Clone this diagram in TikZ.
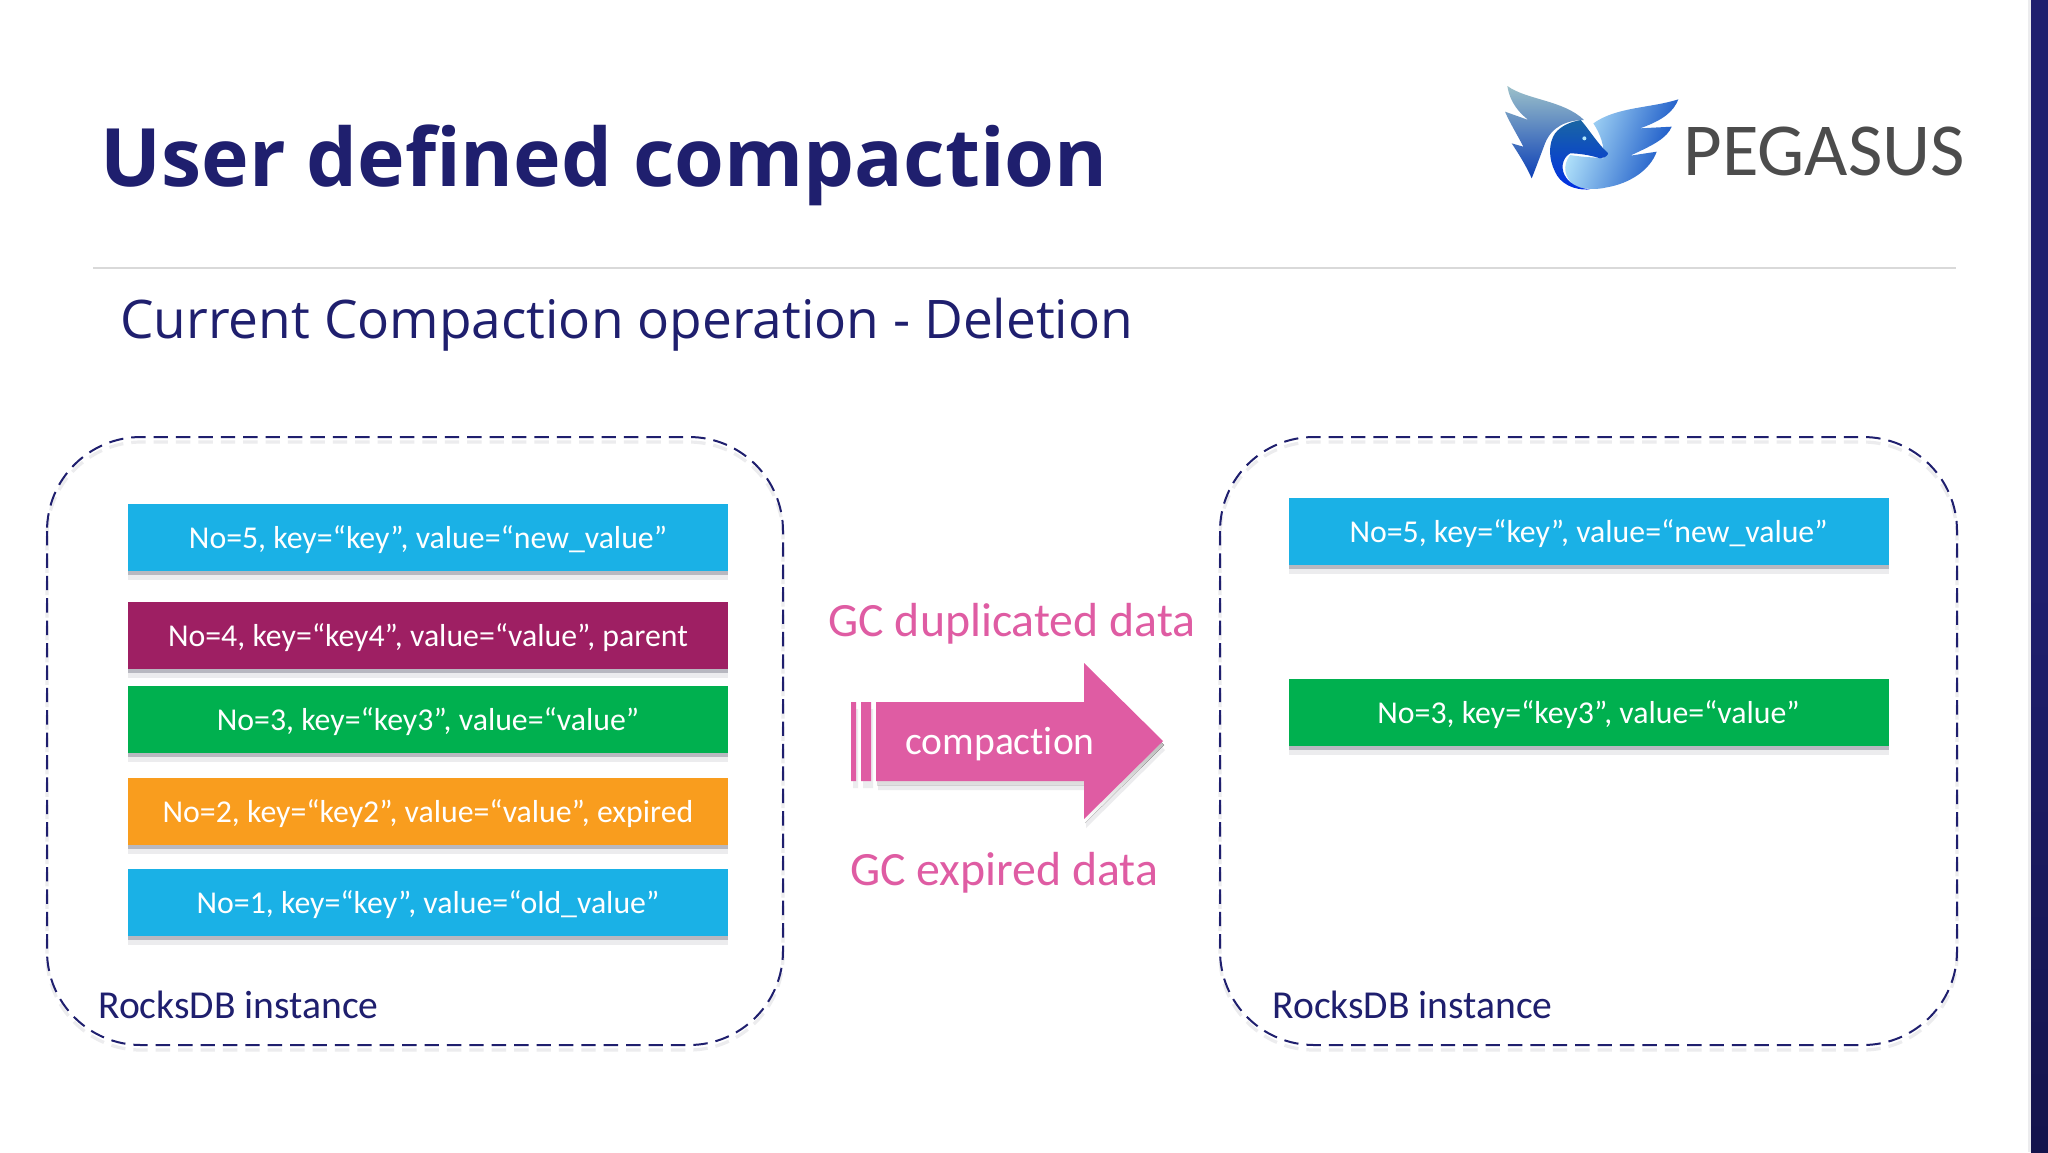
\documentclass[tikz,border=0pt]{standalone}
\usepackage{fontspec}
\setmainfont[Ligatures={NoCommon}]{Carlito}
\newfontfamily\headfont{Open Sans}
\usetikzlibrary{shadows}
\definecolor{navy}{HTML}{1F1F6E}
\definecolor{navydark}{HTML}{14144C}
\definecolor{cyanbox}{HTML}{1AB1E6}
\definecolor{plumbox}{HTML}{9E1F63}
\definecolor{greenbox}{HTML}{00B04F}
\definecolor{orangebox}{HTML}{F99D1E}
\definecolor{pinkish}{HTML}{DF5CA3}
\definecolor{shade}{HTML}{B8B8C0}
\definecolor{shadelight}{HTML}{ECECEE}
\definecolor{rulegray}{HTML}{D9D9D9}
\newcommand\rt[1]{\raisebox{0pt}[11pt][0pt]{#1}}
\tikzset{x=0.5pt,y=-0.5pt,
 rec/.style={minimum width=300pt,minimum height=33.5pt,inner sep=0pt,text=white,font=\fontsize{15.9}{18}\selectfont,anchor=center,
   general shadow={fill=shadelight,shadow xshift=0pt,shadow yshift=-4.5pt},
   general shadow={fill=shade,shadow xshift=0pt,shadow yshift=-2pt}},
 inst/.style={line width=1pt,dash pattern=on 7.2pt off 4pt,rounded corners=47pt},
 instlabel/.style={text=navy,font=\fontsize{19.8}{22}\selectfont,anchor=base west,inner sep=0pt},
 pinklabel/.style={text=pinkish,font=\fontsize{23.9}{27}\selectfont,anchor=base,inner sep=0pt},
}
\begin{document}
\begin{tikzpicture}
\useasboundingbox (0,0) rectangle (2048,1152);
\fill[white] (0,0) rectangle (2048,1152);
\fill[shadelight] (2028,0) rectangle (2031,1152);
\shade[top color=navy,bottom color=navydark,middle color=navy] (2031,0) rectangle (2048,1152);
\node[anchor=base west,inner sep=0pt,text=navy,font=\headfont\bfseries\fontsize{40.3}{50}\selectfont] (title) at (100,186) {User defined compaction};
\node[anchor=base west,inner sep=0pt,text=navy,font=\headfont\fontsize{26.6}{34}\selectfont] (subtitle) at (120,338) {Current Compaction operation - Deletion};
\coordinate (ruleL) at (93,268); \coordinate (ruleR) at (1956,268);
\draw[rulegray,line width=0.8pt] (ruleL) -- (ruleR);
% logo
\begin{scope}[shift={(1490,70)},x=0.1667pt,y=-0.1667pt]
\shade[top color=blue!20!cyan!30!gray!60,bottom color=blue!70!cyan!70!black!95]
 (52,48) .. controls (110,90) and (220,90) .. (282,150)
 .. controls (230,150) and (185,170) .. (165,220)
 .. controls (150,260) and (135,300) .. (125,325)
 .. controls (110,290) and (85,250) .. (65,220)
 -- (100,230) .. controls (85,200) and (60,160) .. (45,125)
 -- (115,150) .. controls (90,130) and (60,100) .. (52,48) -- cycle;
\shade[left color=blue!25!cyan!25!white,right color=blue!65!cyan!75!black!95,shading angle=70]
 (310,160) .. controls (380,110) and (480,115) .. (565,88)
 .. controls (550,125) and (520,150) .. (450,175)
 -- (545,170) .. controls (530,205) and (490,225) .. (420,257)
 -- (500,245) .. controls (480,300) and (420,340) .. (350,352)
 .. controls (310,362) and (270,355) .. (250,345)
 .. controls (225,320) and (215,290) .. (240,255)
 .. controls (280,262) and (320,262) .. (340,265)
 .. controls (345,230) and (330,190) .. (310,160) -- cycle;
\shade[top color=blue!45!cyan!60!black!90,bottom color=blue!80!cyan!90!black]
 (272,150) .. controls (295,175) and (325,225) .. (355,250)
 .. controls (350,260) and (340,265) .. (330,265)
 .. controls (300,255) and (265,250) .. (240,250)
 .. controls (215,265) and (210,300) .. (230,325)
 .. controls (245,345) and (270,355) .. (300,358)
 .. controls (250,362) and (210,340) .. (195,305)
 .. controls (175,265) and (175,220) .. (195,190)
 .. controls (215,165) and (245,155) .. (272,150) -- cycle;
\fill[white!70!cyan] (283,205) circle (6);
\end{scope}
\node[anchor=base west,inner sep=0pt,text=black!70,font=\fontsize{37.4}{44}\selectfont] (logo) at (1683,175) {PEGASUS};
% left
\begin{scope}[yshift=-2.5pt]
\draw[inst,shadelight,line width=1.6pt] (47,437) rectangle (783,1045);
\draw[inst,shadelight,line width=1.6pt] (1220,437) rectangle (1957,1045);
\end{scope}
\draw[inst,draw=navy] (47,437) rectangle (783,1045);
\node[instlabel] (linst) at (98,1018) {RocksDB instance};
\node[rec,fill=cyanbox] (l5) at (428,537) {\rt{No=5, key=“key”, value=“new\_value”}};
\node[rec,fill=plumbox] (l4) at (428,635) {\rt{No=4, key=“key4”, value=“value”, parent}};
\node[rec,fill=greenbox] (l3) at (428,719.5) {\rt{No=3, key=“key3”, value=“value”}};
\node[rec,fill=orangebox] (l2) at (428,811) {\rt{No=2, key=“key2”, value=“value”, expired}};
\node[rec,fill=cyanbox] (l1) at (428,902.5) {\rt{No=1, key=“key”, value=“old\_value”}};
% right
\draw[inst,draw=navy] (1220,437) rectangle (1957,1045);
\node[instlabel] (rinst) at (1272,1018) {RocksDB instance};
\node[rec,fill=cyanbox] (r5) at (1588.5,531) {\rt{No=5, key=“key”, value=“new\_value”}};
\node[rec,fill=greenbox] (r3) at (1588.5,712) {\rt{No=3, key=“key3”, value=“value”}};
% arrow
\fill[shadelight,shift={(2,7)}] (851,702) rectangle (856,781) (861,702) rectangle (871,781);
\fill[shadelight,shift={(2,9)}] (876,702) -- (1084,702) -- (1084,663) -- (1163,741) -- (1084,819) -- (1084,781) -- (876,781) -- cycle;
\fill[shade,shift={(1,4)}] (876,702) -- (1084,702) -- (1084,663) -- (1163,741) -- (1084,819) -- (1084,781) -- (876,781) -- cycle;
\fill[pinkish] (851,702) rectangle (856,781) (861,702) rectangle (871,781);
\fill[pinkish] (876,702) -- (1084,702) -- (1084,663) -- (1163,741) -- (1084,819) -- (1084,781) -- (876,781) -- cycle;
\node[anchor=base,inner sep=0pt,text=white,font=\fontsize{19.8}{26}\selectfont] (comp) at (1000,754) {compaction};
\node[pinklabel] (gcdup) at (1012,636) {GC duplicated data};
\node[pinklabel] (gcexp) at (1004,885) {GC expired data};
\end{tikzpicture}
\end{document}
